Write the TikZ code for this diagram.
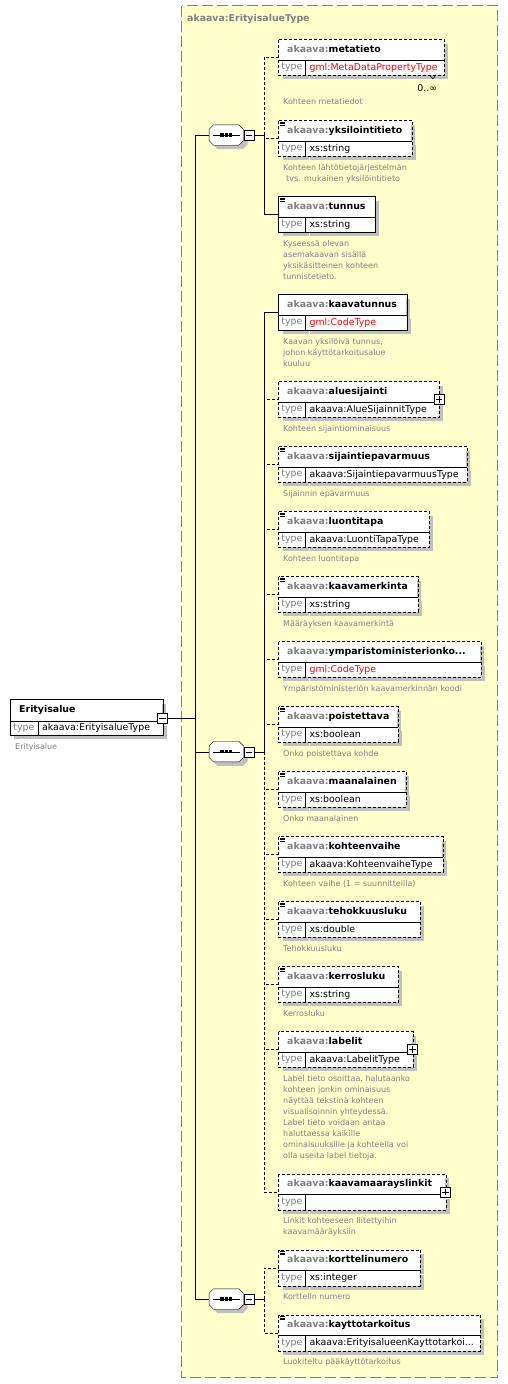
\documentclass[tikz,border=0pt]{standalone}
\usepackage{fontspec}
\setmainfont{DejaVu Sans}
\usepackage{tikz}
\usetikzlibrary{shadows}
\usetikzlibrary{positioning}
\definecolor{typebg}{RGB}{255,255,204}
\definecolor{framegray}{RGB}{128,128,128}
\definecolor{softgray}{RGB}{128,128,128}
\definecolor{shadowgray}{RGB}{192,192,192}
\tikzset{line width=0.8pt, font=\fontsize{9.4}{11}\selectfont}
\tikzstyle{boxshadow} = [drop shadow={shadow xshift=4pt, shadow yshift=-4pt, fill=shadowgray, opacity=1}]
\tikzstyle{hdr} = [fill=white, boxshadow, anchor=north west, minimum height=20pt, inner xsep=8.5pt, inner ysep=0pt, text height=7pt, text depth=2pt, align=left, font=\fontsize{9.4}{11}\selectfont\bfseries]
\tikzstyle{tcell} = [fill=white, boxshadow, anchor=north west, minimum width=26.5pt, minimum height=15pt, inner sep=0pt, text=softgray]
\tikzstyle{tval} = [fill=white, boxshadow, anchor=north west, minimum height=15pt, inner xsep=4pt, inner ysep=0pt, text height=7pt, text depth=2pt, align=left]
\tikzstyle{desc} = [anchor=north west, inner sep=0pt, align=left, text=softgray, font=\fontsize{8}{11}\selectfont]
\tikzstyle{optbox} = [dash pattern=on 3pt off 2pt]
\tikzstyle{reqbox} = []
\tikzstyle{optlink} = [dash pattern=on 3pt off 2pt]
\tikzstyle{seq} = [minimum width=34pt, minimum height=20pt, inner sep=0pt]
\tikzstyle{toggle} = [draw, fill=white, minimum size=10pt, inner sep=0pt]
\newcommand{\pfx}[1]{\textcolor{softgray}{akaava:}#1}
% [desc gap] name, top, width, border, local name, type, description
\newcommand{\xselem}[8][7.5]{%
  \pgfmathsetmacro\hw{#4-17}
  \pgfmathsetmacro\vw{#4-34.5}
  \node[hdr, text width=\hw pt] (#2) at (278.5,#3) {\pfx{#6}};
  \node[tcell] (#2-t) at (#2.south west) {type};
  \node[tval, text width=\vw pt] (#2-v) at (#2-t.north east) {#7};
  \draw[#5] (#2.north west) rectangle (#2-v.south east);
  \draw (#2.south west) -- (#2-v.north east);
  \draw (#2-t.north east) -- (#2-t.south east);
  \node[desc] (#2-d) at ([shift={(4.5,#1)}]#2-t.south west) {#8};
}
\newcommand{\docmark}[1]{%
  \foreach \k in {1.5,3,4.5} {\draw[line width=.6pt] ([shift={(1.5,\k)}]#1.north west) -- ++(5,0);}
}
\newcommand{\plusmark}[1]{%
  \node[toggle] (#1-p) at ([yshift=2.5pt]#1.south east) {};
  \draw ([xshift=2pt]#1-p.west) -- ([xshift=-2pt]#1-p.east) ([yshift=-2pt]#1-p.north) -- ([yshift=2pt]#1-p.south);
}

\begin{document}
\begin{tikzpicture}[x=1pt, y=-1pt]
	\useasboundingbox (0,0) rectangle (508,1384);

	% complex type frame
	\draw[framegray, line width=0.9pt, dash pattern=on 11pt off 4pt, fill=typebg] (181.5,5.5) rectangle (497.5,1377.5);
	\node[anchor=west, inner sep=0pt, text=softgray, font=\fontsize{9.4}{11}\selectfont\bfseries] (typetitle) at (187,19) {akaava:ErityisalueType};

	% root element
	\node[hdr, text width=134pt, inner xsep=9pt, minimum height=21.5pt] (erityisalue) at (10,699.5) {Erityisalue};
	\node[tcell, minimum width=27.5pt, minimum height=13.5pt] (erityisalue-t) at (erityisalue.south west) {type};
	\node[tval, text width=116.5pt, minimum height=13.5pt] (erityisalue-v) at (erityisalue-t.north east) {akaava:ErityisalueType};
	\draw (erityisalue.north west) rectangle (erityisalue-v.south east);
	\draw (erityisalue.south west) -- (erityisalue-v.north east);
	\draw (erityisalue-t.north east) -- (erityisalue-t.south east);
	\node[toggle] (erityisalue-m) at ([yshift=3pt]erityisalue.south east) {};
	\node[desc] (erityisalue-d) at ([shift={(5,7.5)}]erityisalue-t.south west) {Erityisalue};

	% sequences
	\node[seq] (seqA) at (226.3,135) {};
	\node[seq] (seqB) at (226.3,751.7) {};
	\node[seq] (seqC) at (226.3,1299) {};
	\foreach \s in {seqA,seqB,seqC} {
		\draw[fill=white, boxshadow] ([xshift=4.5pt]\s.north west) -- ([xshift=-4.5pt]\s.north east) -- ([yshift=-4.5pt]\s.north east)
			-- ([yshift=4.5pt]\s.south east) -- ([xshift=-4.5pt]\s.south east) -- ([xshift=4.5pt]\s.south west)
			-- ([yshift=4.5pt]\s.south west) -- ([yshift=-4.5pt]\s.north west) -- cycle;
		\draw ([xshift=4pt]\s.west) -- ([xshift=-4pt]\s.east);
		\foreach \d in {-4.3,0,4.3} {\fill ([xshift=\d pt]\s.center) +(-1.6,-1.6) rectangle +(1.6,1.6);}
	}
	\node[toggle, right=0pt of seqA] (seqA-m) {};
	\node[toggle, right=0pt of seqB] (seqB-m) {};
	\node[toggle, right=0pt of seqC] (seqC-m) {};
	\foreach \m in {erityisalue-m,seqA-m,seqB-m,seqC-m}
		{\draw ([xshift=2pt]\m.west) -- ([xshift=-2pt]\m.east);}

	% child elements
	\xselem[23]{metatieto}{39.5}{165}{optbox}{metatieto}{\textcolor{red}{gml:MetaDataPropertyType}}{Kohteen metatiedot}
	\node[inner sep=0pt] (metatieto-n) at ([shift={(-17,13)}]metatieto-v.south east) {0..∞};
	\draw[line width=.6pt] ([xshift=-14.5pt]metatieto-v.south east) -- ++(3,3.5) -- ++(3,-3.5);
	\xselem{yksilointitieto}{120.5}{132.5}{optbox}{yksilointitieto}{xs:string}{Kohteen lähtötietojärjestelmän\\\hspace*{3pt}tvs. mukainen yksilöintitieto}
	\xselem{tunnus}{196.5}{96}{reqbox}{tunnus}{xs:string}{Kyseessä olevan\\asemakaavan sisällä\\yksikäsitteinen kohteen\\tunnistetieto.}
	\xselem{kaavatunnus}{294.5}{127.5}{reqbox}{kaavatunnus}{\textcolor{red}{gml:CodeType}}{Kaavan yksilöivä tunnus,\\johon käyttötarkoitusalue\\kuuluu}
	\xselem{aluesijainti}{381.5}{160}{optbox}{aluesijainti}{akaava:AlueSijainnitType}{Kohteen sijaintiominaisuus}
	\xselem{sijaintiepavarmuus}{446.5}{187.5}{optbox}{sijaintiepavarmuus}{akaava:SijaintiepavarmuusType}{Sijainnin epävarmuus}
	\xselem{luontitapa}{511.5}{150}{optbox}{luontitapa}{akaava:LuontiTapaType}{Kohteen luontitapa}
	\xselem{kaavamerkinta}{576.5}{138.5}{optbox}{kaavamerkinta}{xs:string}{Määräyksen kaavamerkintä}
	\xselem{ymparisto}{641.5}{201.5}{optbox}{ymparistoministerionko...}{\textcolor{red}{gml:CodeType}}{Ympäristöministeriön kaavamerkinnän koodi}
	\xselem{poistettava}{706.5}{118.5}{optbox}{poistettava}{xs:boolean}{Onko poistettava kohde}
	\xselem{maanalainen}{771.5}{126.5}{optbox}{maanalainen}{xs:boolean}{Onko maanalainen}
	\xselem{kohteenvaihe}{836.5}{163.5}{optbox}{kohteenvaihe}{akaava:KohteenvaiheType}{Kohteen vaihe (1 = suunnitteilla)}
	\xselem{tehokkuusluku}{901.5}{141}{optbox}{tehokkuusluku}{xs:double}{Tehokkuusluku}
	\xselem{kerrosluku}{966.5}{119}{optbox}{kerrosluku}{xs:string}{Kerrosluku}
	\xselem{labelit}{1031.5}{133.5}{optbox}{labelit}{akaava:LabelitType}{Label tieto osoittaa, halutaanko\\kohteen jonkin ominaisuus\\näyttää tekstinä kohteen\\visualisoinnin yhteydessä.\\Label tieto voidaan antaa\\haluttaessa kaikille\\ominaisuuksille ja kohteella voi\\olla useita label tietoja.}
	\xselem{kaavamaarayslinkit}{1174}{166.5}{optbox}{kaavamaarayslinkit}{}{Linkit kohteeseen liitettyihin\\kaavamääräyksiin}
	\xselem{korttelinumero}{1250}{141}{optbox}{korttelinumero}{xs:integer}{Korttelin numero}
	\xselem{kayttotarkoitus}{1315}{201}{optbox}{kayttotarkoitus}{akaava:ErityisalueenKayttotarkoi...}{Luokiteltu pääkäyttötarkoitus}

	\foreach \e in {yksilointitieto,tunnus,sijaintiepavarmuus,luontitapa,kaavamerkinta,poistettava,maanalainen,kohteenvaihe,tehokkuusluku,kerrosluku,korttelinumero,kayttotarkoitus}
		{\docmark{\e}}
	\plusmark{aluesijainti}
	\plusmark{labelit}
	\plusmark{kaavamaarayslinkit}

	% connectors
	\coordinate[right=28pt of erityisalue-m.east] (trunk);
	\draw (erityisalue-m.east) -- (trunk);
	\foreach \s in {seqA,seqB,seqC} {\draw (trunk) |- (\s.west);}
	\coordinate[right=10pt of seqA-m.east] (busA);
	\coordinate[right=10pt of seqB-m.east] (busB);
	\coordinate[right=10pt of seqC-m.east] (busC);
	\draw (seqA-m.east) -- (busA);
	\draw (seqB-m.east) -- (busB);
	\draw (seqC-m.east) -- (busC);
	\foreach \e in {metatieto,yksilointitieto}
		{\draw[optlink] (busA) |- ([yshift=2.5pt]\e.south west);}
	\draw (busA) |- ([yshift=2.5pt]tunnus.south west);
	\foreach \e in {aluesijainti,sijaintiepavarmuus,luontitapa,kaavamerkinta,ymparisto,poistettava,maanalainen,kohteenvaihe,tehokkuusluku,kerrosluku,labelit,kaavamaarayslinkit}
		{\draw[optlink] (busB) |- ([yshift=2.5pt]\e.south west);}
	\draw (busB) |- ([yshift=2.5pt]kaavatunnus.south west);
	\foreach \e in {korttelinumero,kayttotarkoitus}
		{\draw[optlink] (busC) |- ([yshift=2.5pt]\e.south west);}
\end{tikzpicture}
\end{document}
